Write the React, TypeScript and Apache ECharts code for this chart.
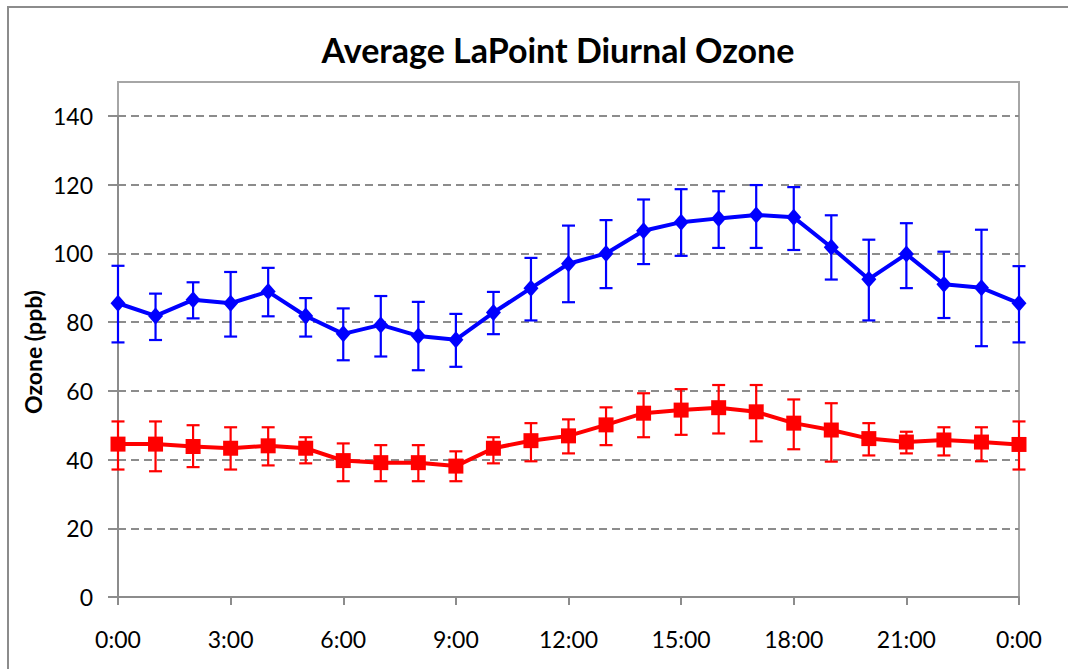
import React, { useEffect, useRef } from "react";
import * as echarts from "echarts";

const hours = [0, 1, 2, 3, 4, 5, 6, 7, 8, 9, 10, 11, 12, 13, 14, 15, 16, 17, 18, 19, 20, 21, 22, 23, 24];

const blueMean = [85.5, 81.8, 86.5, 85.5, 88.9, 81.8, 76.6, 79.2, 76.0, 74.9, 82.8, 89.9, 97.0, 100.0, 106.6, 109.1, 110.2, 111.2, 110.5, 101.8, 92.5, 99.8, 91.0, 90.0, 85.5];
const blueHigh = [96.4, 88.3, 91.6, 94.6, 95.8, 87.0, 84.0, 87.6, 85.9, 82.4, 88.8, 98.7, 108.1, 109.7, 115.7, 118.7, 118.1, 119.9, 119.3, 111.1, 104.0, 108.8, 100.5, 106.9, 96.3];
const blueLow = [74.1, 74.8, 81.1, 75.8, 81.7, 75.8, 68.9, 70.0, 66.0, 67.0, 76.5, 80.5, 85.8, 89.9, 96.9, 99.3, 101.6, 101.6, 101.0, 92.4, 80.5, 89.9, 81.2, 73.0, 74.1];

const redMean = [44.5, 44.5, 43.8, 43.3, 44.0, 43.3, 39.7, 39.1, 39.1, 38.1, 43.3, 45.5, 46.9, 50.1, 53.5, 54.4, 55.1, 53.9, 50.6, 48.6, 46.1, 45.1, 45.7, 45.1, 44.4];
const redHigh = [51.1, 51.1, 50.0, 49.4, 49.4, 46.5, 44.7, 44.2, 44.2, 42.4, 46.5, 50.6, 51.7, 55.2, 59.3, 60.5, 61.7, 61.7, 57.5, 56.4, 50.6, 48.1, 49.4, 49.4, 51.1];
const redLow = [37.1, 36.6, 37.8, 37.1, 38.3, 38.9, 33.7, 33.7, 33.7, 33.7, 38.9, 39.5, 41.8, 44.2, 46.5, 47.2, 47.6, 45.3, 43.0, 39.4, 41.2, 41.8, 41.2, 39.5, 37.1];

const titleText = "Average LaPoint Diurnal Ozone";
const yTitle = "Ozone (ppb)";

const FONT = "Lato, 'Open Sans', sans-serif";

function errorSeries(low: number[], high: number[], color: string) {
  return {
    type: "custom",
    z: 3,
    data: hours.map((h, i) => [h, low[i], high[i]]),
    encode: { x: 0, y: [1, 2] },
    renderItem: (params: any, api: any) => {
      const lo = api.coord([api.value(0), api.value(1)]);
      const hi = api.coord([api.value(0), api.value(2)]);
      const cap = 6.5;
      const style = { stroke: color, lineWidth: 2.2 };
      return {
        type: "group",
        children: [
          { type: "line", shape: { x1: lo[0], y1: lo[1], x2: hi[0], y2: hi[1] }, style },
          { type: "line", shape: { x1: hi[0] - cap, y1: hi[1], x2: hi[0] + cap, y2: hi[1] }, style },
          { type: "line", shape: { x1: lo[0] - cap, y1: lo[1], x2: lo[0] + cap, y2: lo[1] }, style },
        ],
      };
    },
  };
}

export default function App() {
  const ref = useRef<HTMLDivElement>(null);
  useEffect(() => {
    if (!ref.current) return;
    const chart = echarts.init(ref.current, undefined, { renderer: "svg" });
    chart.setOption({
      animation: false,
      backgroundColor: "#ffffff",
      title: {
        text: titleText,
        left: 553,
        top: 27,
        textAlign: "center",
        textStyle: { fontFamily: FONT, fontWeight: "bold", fontSize: 34, color: "#000" },
      },
      graphic: [
        {
          type: "rect",
          z: -10,
          shape: { x: 8, y: 7, width: 1080, height: 700 },
          style: { fill: "transparent", stroke: "#8c8c8c", lineWidth: 2 },
        },
        {
          type: "rect",
          z: -10,
          shape: { x: 118, y: 82, width: 901, height: 515 },
          style: { fill: "transparent", stroke: "#a6a6a6", lineWidth: 2 },
        },
        {
          type: "text",
          x: 33,
          y: 352,
          rotation: Math.PI / 2,
          style: {
            text: yTitle,
            fontFamily: FONT,
            fontWeight: "bold",
            fontSize: 23,
            fill: "#000",
            align: "center",
            verticalAlign: "middle",
          },
        },
      ],
      grid: { left: 118, right: 49, top: 116, bottom: 72 },
      xAxis: {
        type: "value",
        min: 0,
        max: 24,
        interval: 3,
        axisLine: { show: true, lineStyle: { color: "#8c8c8c", width: 2 } },
        axisTick: { show: true, length: 8, lineStyle: { color: "#8c8c8c", width: 2 } },
        axisLabel: {
          margin: 30,
          fontFamily: FONT,
          fontSize: 23,
          color: "#000",
          formatter: (v: number) => `${v % 24}:00`,
        },
        splitLine: { show: false },
      },
      yAxis: {
        type: "value",
        min: 0,
        max: 140,
        interval: 20,
        axisLine: { show: true, lineStyle: { color: "#8c8c8c", width: 2 } },
        axisTick: { show: true, length: 10, lineStyle: { color: "#8c8c8c", width: 2 } },
        axisLabel: { margin: 25, fontFamily: FONT, fontSize: 23, color: "#000" },
        splitLine: { show: true, lineStyle: { color: "#8c8c8c", width: 2, type: [8, 5] } },
      },
      series: [
        errorSeries(blueLow, blueHigh, "#0000ff"),
        errorSeries(redLow, redHigh, "#ff0000"),
        {
          type: "line",
          z: 4,
          data: hours.map((h, i) => [h, blueMean[i]]),
          symbol: "diamond",
          symbolSize: [15, 17],
          lineStyle: { color: "#0000ff", width: 4 },
          itemStyle: { color: "#0000ff" },
        },
        {
          type: "line",
          z: 4,
          data: hours.map((h, i) => [h, redMean[i]]),
          symbol: "rect",
          symbolSize: 15,
          lineStyle: { color: "#ff0000", width: 4 },
          itemStyle: { color: "#ff0000" },
        },
      ],
    });
    return () => chart.dispose();
  }, []);
  return (
    <div
      ref={ref}
      style={{ position: "fixed", left: 0, top: 0, width: 1068, height: 669 }}
    />
  );
}
